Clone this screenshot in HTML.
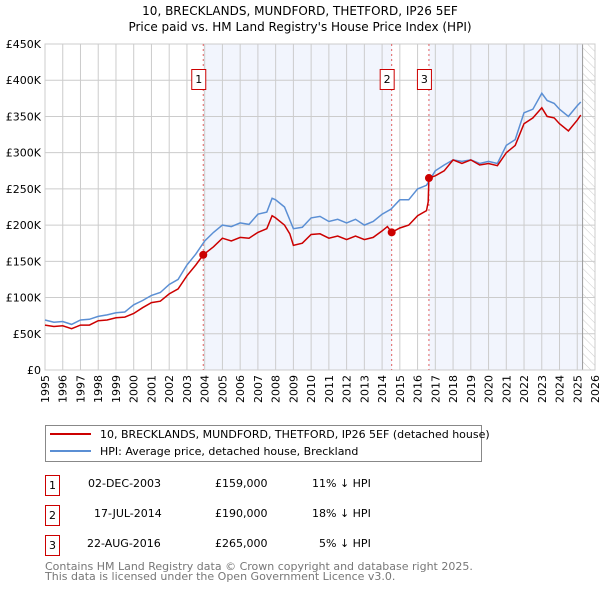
<!DOCTYPE html>
<html><head><meta charset="utf-8"><style>
body{margin:0;background:#fff;font-family:"DejaVu Sans","Liberation Sans",sans-serif;}
svg text{font-family:"DejaVu Sans","Liberation Sans",sans-serif;}
</style></head><body>
<svg id="c" width="600" height="590" xmlns="http://www.w3.org/2000/svg">
<defs><pattern id="hatch" width="6" height="6" patternUnits="userSpaceOnUse" patternTransform="rotate(-45)"><rect width="6" height="6" fill="#fff"/><line x1="0" y1="0" x2="0" y2="6" stroke="#ccc" stroke-width="1"/></pattern></defs>
<text x="300" y="15" text-anchor="middle" font-size="12">10, BRECKLANDS, MUNDFORD, THETFORD, IP26 5EF</text>
<text x="300" y="31" text-anchor="middle" font-size="12">Price paid vs. HM Land Registry's House Price Index (HPI)</text>
<g id="plot"></g>
<g>
<rect x="45.5" y="425.5" width="436" height="36" fill="#fff" stroke="#888"/>
<line x1="50" y1="434" x2="91" y2="434" stroke="#cc0000" stroke-width="2"/>
<text x="100" y="438" font-size="11">10, BRECKLANDS, MUNDFORD, THETFORD, IP26 5EF (detached house)</text>
<line x1="50" y1="451" x2="91" y2="451" stroke="#5b8fd4" stroke-width="2"/>
<text x="100" y="455" font-size="11">HPI: Average price, detached house, Breckland</text>
</g>
<g font-size="11">
<rect x="45.5" y="475.5" width="14" height="20" fill="#fff" stroke="#cc0000"/><text x="52.5" y="489" text-anchor="middle">1</text>
<text x="88" y="487">02-DEC-2003</text><text x="215" y="487">£159,000</text><text x="312" y="487">11% ↓ HPI</text>
<rect x="45.5" y="505.5" width="14" height="20" fill="#fff" stroke="#cc0000"/><text x="52.5" y="519" text-anchor="middle">2</text>
<text x="94" y="517">17-JUL-2014</text><text x="215" y="517">£190,000</text><text x="312" y="517">18% ↓ HPI</text>
<rect x="45.5" y="535.5" width="14" height="20" fill="#fff" stroke="#cc0000"/><text x="52.5" y="549" text-anchor="middle">3</text>
<text x="87" y="547">22-AUG-2016</text><text x="215" y="547">£265,000</text><text x="319" y="547">5% ↓ HPI</text>
</g>
<text x="45" y="570" font-size="11" fill="#777">Contains HM Land Registry data © Crown copyright and database right 2025.</text>
<text x="45" y="580" font-size="11" fill="#777">This data is licensed under the Open Government Licence v3.0.</text>
</svg>
<script>
const hpiYears=[1995,1995.5,1996,1996.5,1997,1997.5,1998,1998.5,1999,1999.5,2000,2000.5,2001,2001.5,2002,2002.5,2003,2003.5,2004,2004.5,2005,2005.5,2006,2006.5,2007,2007.5,2007.8,2008,2008.5,2009,2009.5,2010,2010.5,2011,2011.5,2012,2012.5,2013,2013.5,2014,2014.5,2015,2015.5,2016,2016.5,2017,2017.5,2018,2018.5,2019,2019.5,2020,2020.5,2021,2021.5,2022,2022.5,2023,2023.3,2023.7,2024,2024.5,2025,2025.2];
const hpiValues=[69,66,67,63,69,70,74,76,79,80,90,96,103,107,118,125,145,160,178,190,200,198,203,201,215,218,237,235,225,195,197,210,212,205,208,203,208,200,205,215,222,235,235,250,255,275,283,290,288,290,285,288,285,310,318,355,360,382,372,368,360,350,365,370];
const paidYears=[1995,1995.5,1996,1996.5,1997,1997.5,1998,1998.5,1999,1999.5,2000,2000.5,2001,2001.5,2002,2002.5,2003,2003.5,2003.92,2004.5,2005,2005.5,2006,2006.5,2007,2007.5,2007.8,2008,2008.5,2008.8,2009,2009.5,2010,2010.5,2011,2011.5,2012,2012.5,2013,2013.5,2014,2014.3,2014.54,2015,2015.5,2016,2016.5,2016.6,2016.64,2017,2017.5,2018,2018.5,2019,2019.5,2020,2020.5,2021,2021.5,2022,2022.5,2023,2023.3,2023.7,2024,2024.5,2025,2025.2];
const paidValues=[62,60,61,57,62,62,68,69,72,73,78,86,93,95,105,112,130,145,159,170,182,178,183,182,190,195,213,210,200,188,172,175,187,188,182,185,180,185,180,183,192,198,190,196,200,213,220,232,265,268,275,290,285,290,283,285,282,300,310,340,348,362,350,348,340,330,345,352];
const saleYears=[2003.92,2014.54,2016.64];
const saleValues=[159,190,265];
const saleLabels=["1","2","3"];
const yTicks=[0,50,100,150,200,250,300,350,400,450];
const yTickLabels=["£0","£50K","£100K","£150K","£200K","£250K","£300K","£350K","£400K","£450K"];
const xTicks=[1995,1996,1997,1998,1999,2000,2001,2002,2003,2004,2005,2006,2007,2008,2009,2010,2011,2012,2013,2014,2015,2016,2017,2018,2019,2020,2021,2022,2023,2024,2025,2026];
const dataEnd=2025.3;

const L=45,R=595,T=44,B=370;
const x=v=>L+(v-1995)/(2026-1995)*(R-L);
const y=v=>B-v/450*(B-T);
const NS="http://www.w3.org/2000/svg";
const g=document.getElementById('plot');
function mk(tag,attrs,parent){const e=document.createElementNS(NS,tag);for(const k in attrs)e.setAttribute(k,attrs[k]);(parent||g).appendChild(e);return e;}

let r=mk('rect',{x:x(saleYears[0]),y:T,width:x(saleYears[1])-x(saleYears[0]),height:B-T,fill:'#f2f5fd'});


r=mk('rect',{x:x(saleYears[2]),y:T,width:x(dataEnd)-x(saleYears[2]),height:B-T,fill:'#f2f5fd'});


r=mk('rect',{x:x(dataEnd),y:T,width:R-x(dataEnd),height:B-T,fill:'url(#hatch)'});



xTicks.forEach(t=>{
  const l=mk('line',{x1:x(t),x2:x(t),y1:T,y2:B,stroke:'#ccc','stroke-width':1});
  
  
  const tx=mk('text',{x:0,y:0,'text-anchor':'end','font-size':11,transform:'translate('+(x(t)+4)+','+(B+5)+') rotate(-90)'});
  tx.textContent=t;
  
  
});
yTicks.forEach((t,i)=>{
  const l=mk('line',{x1:L,x2:R,y1:y(t),y2:y(t),stroke:'#ccc','stroke-width':1});
  
  
  const tx=mk('text',{x:L-4,y:y(t)+4,'text-anchor':'end','font-size':11});
  tx.textContent=yTickLabels[i];
  
  
});
let el=mk('line',{x1:x(dataEnd),x2:x(dataEnd),y1:T,y2:B,stroke:'#999','stroke-width':1});


el=mk('rect',{x:L,y:T,width:R-L,height:B-T,fill:'none',stroke:'#ccc'});



saleYears.forEach((s,i)=>{
  const l=mk('line',{x1:x(s),x2:x(s),y1:T,y2:B,stroke:'#e06060','stroke-width':1,'stroke-dasharray':'2,3'});
  
  
  const bx=mk('rect',{x:x(s)-11.5,y:69.5,width:14,height:20,fill:'#fff',stroke:'#cc0000'});
  
  
  const tx=mk('text',{x:x(s)-4.5,y:83,'text-anchor':'middle','font-size':11});
  tx.textContent=saleLabels[i];
  
  
});

function pts(xs,vs){return xs.map((v,i)=>x(v).toFixed(1)+','+y(vs[i]).toFixed(1)).join(' ');}
el=mk('polyline',{points:pts(hpiYears,hpiValues),fill:'none',stroke:'#5b8fd4','stroke-width':1.5});


el=mk('polyline',{points:pts(paidYears,paidValues),fill:'none',stroke:'#cc0000','stroke-width':1.5});


saleYears.forEach((s,i)=>{
  const c=mk('circle',{cx:x(s),cy:y(saleValues[i]),r:4,fill:'#cc0000'});
  
  
});
</script>
</body></html>
